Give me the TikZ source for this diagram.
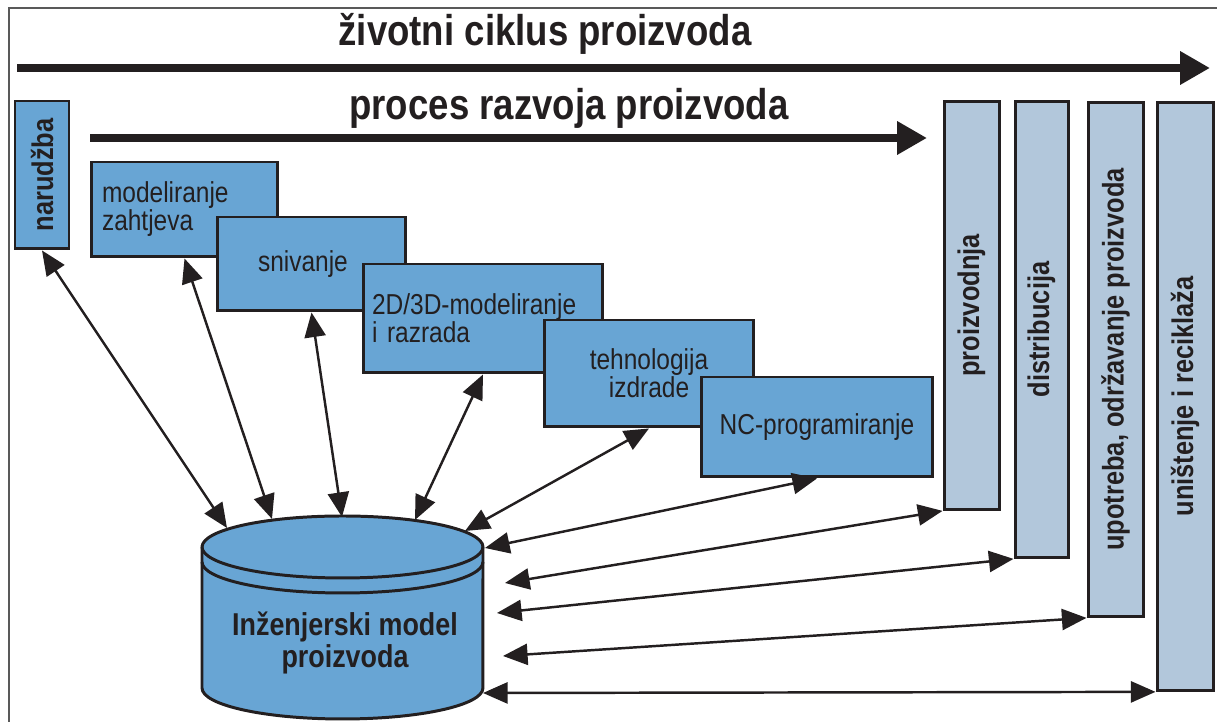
\documentclass[tikz,border=0pt]{standalone}
\usepackage{fontspec}
\setmainfont{Liberation Sans}[FakeStretch=0.85]
\usepackage{tikz}
\usetikzlibrary{arrows.meta}
\definecolor{boxblue}{RGB}{104,165,212}
\definecolor{pale}{RGB}{178,199,219}
\definecolor{ink}{RGB}{35,31,32}
\tikzset{
	>={Triangle[length=14pt,width=12pt]}, % heads of the connectors
	every node/.style={text=ink},
	phase/.style={draw=ink, line width=1.7pt, fill=boxblue, inner sep=0pt, font=\fontsize{16.4}{16}\selectfont}, % blue boxes of the development process
	stage/.style={draw=ink, line width=1.7pt, fill=pale, inner sep=0pt, anchor=north, font=\fontsize{17}{17}\selectfont\bfseries}, % columns of the life cycle
	link/.style={<->, ink, line width=1.4pt},
	flow/.style={-{Triangle[length=17pt,width=18pt]}, draw=ink, line width=4.5pt},
	headline/.style={anchor=base, font=\fontsize{24.5}{26}\selectfont\bfseries},
}

\begin{document}
\begin{tikzpicture}[x=0.02cm, y=0.02cm]
		\clip (0,0) rectangle (1217,722);
		\draw[gray!70!black, line width=0.7pt] (9,-20) rectangle (1240,714);

		% Titles and the long arrows
		\node[headline] (life) at (545,676) {životni ciklus proizvoda};
		\node[headline] (dev) at (569,602) {proces razvoja proizvoda};
		\coordinate (lifeA) at (17,654);
		\coordinate (lifeB) at (1210,654);
		\coordinate (devA) at (90,584);
		\coordinate (devB) at (927,584);
		\draw[flow] (lifeA) -- (lifeB);
		\draw[flow] (devA) -- (devB);

		% Define the boxes
		\node[phase, minimum width=1.08cm, minimum height=2.96cm, font=\fontsize{17}{17}\selectfont\bfseries] (nar) at (42,547) {\rotatebox{90}{narudžba}};
		\node[phase, minimum width=3.74cm, minimum height=1.9cm, text width=3.3cm, align=left] (mod) at (184.5,512.5) {modeliranje\\zahtjeva};
		\node[phase, minimum width=3.78cm, minimum height=1.88cm, text width=2.14cm, align=left] (sni) at (311.5,458) {snivanje};
		\node[phase, minimum width=4.8cm, minimum height=2.18cm, text width=4.44cm, align=left] (cad) at (483,403.5) {2D/3D-modeliranje\\i razrada};
		\node[phase, minimum width=4.2cm, minimum height=2.14cm, align=center] (teh) at (649,348.5) {tehnologija\\izdrade};
		\node[phase, minimum width=4.64cm, minimum height=2cm] (nc) at (817,295) {NC-programiranje};

		% Life cycle columns
		\node[stage, minimum width=1.1cm, minimum height=8.16cm] (prod) at (971.5,622) {\rotatebox{90}{proizvodnja}};
		\node[stage, minimum width=1.06cm, minimum height=9.12cm] (dist) at (1041.5,622) {\rotatebox{90}{distribucija}};
		\node[stage, minimum width=1.1cm, minimum height=10.28cm] (upo) at (1115.5,621) {\rotatebox{90}{upotreba, održavanje proizvoda}};
		\node[stage, minimum width=1.12cm, minimum height=11.76cm] (uni) at (1185,621) {\rotatebox{90}{uništenje i reciklaža}};

		% Database
		\filldraw[draw=ink, fill=boxblue, line width=1.7pt] (202,175) -- (202,34)
			arc[start angle=180, end angle=360, x radius=2.81cm, y radius=0.62cm] -- (483,175)
			arc[start angle=0, end angle=180, x radius=2.81cm, y radius=0.62cm] -- cycle;
		\draw[draw=ink, line width=1.7pt] (202,175) arc[start angle=180, end angle=360, x radius=2.81cm, y radius=0.62cm];
		\draw[draw=ink, line width=1.7pt] (202,160) arc[start angle=180, end angle=360, x radius=2.81cm, y radius=0.62cm];
		\node[font=\fontsize{18}{16}\selectfont\bfseries, align=center] (eng) at (345,79) {Inženjerski model\\proizvoda};
		\coordinate (dNar) at (227,194);
		\coordinate (dMod) at (272,203);
		\coordinate (dSni) at (342,205);
		\coordinate (dCad) at (415,202);
		\coordinate (dTeh) at (465,191);
		\coordinate (dNc) at (485,174);
		\coordinate (dProd) at (505,139);
		\coordinate (dDist) at (497,109);
		\coordinate (dUpo) at (503,66);
		\coordinate (dUni) at (483,29);

		% Connections
		\path[link]
		(nar.south) edge (dNar)
		(mod.south) edge (dMod)
		(sni.south) edge (dSni)
		(cad.south) edge (dCad)
		(teh.south) edge (dTeh)
		(nc.south) edge (dNc)
		(prod.south west) edge (dProd)
		(dist.south west) edge (dDist)
		(upo.south west) edge (dUpo)
		(uni.south west) edge (dUni);
	\end{tikzpicture}
\end{document}
